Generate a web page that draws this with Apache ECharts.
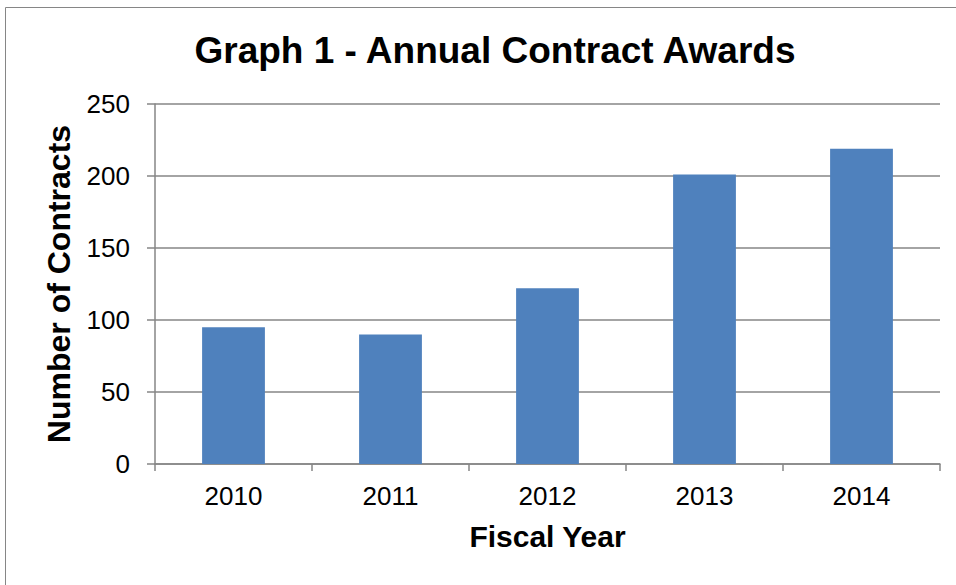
<!DOCTYPE html>
<html>
<head>
<meta charset="utf-8">
<script src="https://cdn.jsdelivr.net/npm/echarts@6/dist/echarts.min.js"></script>
<style>
	html, body { margin: 0; padding: 0; background: #fff; }
	#chart { width: 956px; height: 585px; }
</style>
</head>
<body>
<div id="chart"></div>
<script>
// fiscal years and number of contracts per year
const years = ['2010', '2011', '2012', '2013', '2014'];
const contracts = [95, 90, 122, 201, 219];

const myChart = echarts.init(document.getElementById('chart'), null, { renderer: 'svg' });

const gray = '#868686';
const font = 'Liberation Sans, Arial, sans-serif';

let option = {
	animation: false,
	textStyle: { fontFamily: font },
	graphic: [
		{
			type: 'rect',
			shape: { x: 5.5, y: 7.5, width: 1000, height: 1000 },
			style: { fill: 'none', stroke: gray, lineWidth: 1 },
		},
	],
	title: {
		text: 'Graph 1 - Annual Contract Awards',
		left: 490,
		textAlign: 'center',
		top: 27,
		textStyle: { fontSize: 37, fontWeight: 'bold', color: '#000', fontFamily: font },
	},
	grid: { left: 155, right: 16, top: 104, bottom: 121 },
	xAxis: {
		type: 'category',
		data: years,
		name: 'Fiscal Year',
		nameLocation: 'middle',
		nameGap: 57,
		nameTextStyle: { fontSize: 30, fontWeight: 'bold', color: '#000' },
		axisLine: { lineStyle: { color: gray, width: 1.5 } },
		axisTick: { show: true, length: 7, lineStyle: { color: gray, width: 1.5 } },
		axisLabel: { fontSize: 26, color: '#000', margin: 19 },
	},
	yAxis: {
		type: 'value',
		min: 0,
		max: 250,
		interval: 50,
		name: 'Number of Contracts',
		nameLocation: 'middle',
		nameGap: 80,
		nameTextStyle: { fontSize: 32, fontWeight: 'bold', color: '#000' },
		axisLine: { show: true, lineStyle: { color: gray, width: 1.5 } },
		axisTick: { show: true, length: 8, lineStyle: { color: gray, width: 1.5 } },
		axisLabel: { fontSize: 26, color: '#000', margin: 25 },
		splitLine: { lineStyle: { color: gray, width: 1.5 } },
	},
	series: [
		{
			type: 'bar',
			data: contracts,
			barWidth: '40%',
			itemStyle: { color: '#4F81BD' },
		},
	],
};

myChart.setOption(option);
window.addEventListener('resize', () => {
	myChart.resize();
});
</script>
</body>
</html>
